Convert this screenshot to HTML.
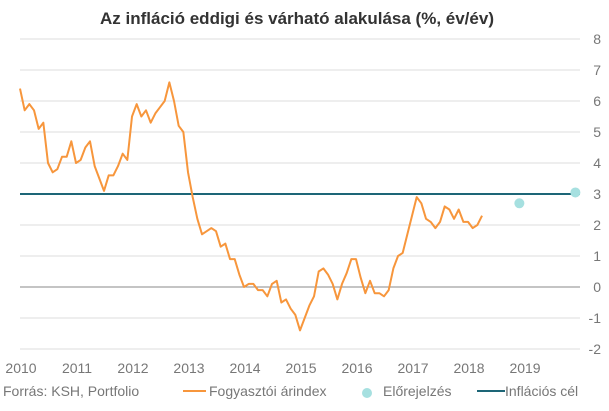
<!DOCTYPE html>
<html><head><meta charset="utf-8"><style>
body{margin:0;background:#fff;width:609px;height:406px;overflow:hidden;font-family:"Liberation Sans",sans-serif}
</style></head><body>
<svg width="609" height="406" font-family="Liberation Sans, sans-serif">
<text x="297" y="24" text-anchor="middle" font-size="17" font-weight="bold" fill="#333">Az infláció eddigi és várható alakulása (%, év/év)</text>
<g id="grid"></g><g id="series"></g>
<g font-size="14" fill="#777">
<text x="3" y="396">Forrás: KSH, Portfolio</text>
<line x1="183" y1="391" x2="206" y2="391" stroke="#f7963c" stroke-width="2"/>
<text x="209" y="396">Fogyasztói árindex</text>
<circle cx="367" cy="393" r="5" fill="#a6e0e0"/>
<text x="383" y="396">Előrejelzés</text>
<line x1="477" y1="391" x2="505" y2="391" stroke="#1d6677" stroke-width="2"/>
<text x="505" y="396">Inflációs cél</text>
</g>
</svg>
<script>
const yTicks=[-2,-1,0,1,2,3,4,5,6,7,8];
const xYears=[2010,2011,2012,2013,2014,2015,2016,2017,2018,2019];
const cpi=[6.4,5.7,5.9,5.7,5.1,5.3,4.0,3.7,3.8,4.2,4.2,4.7,
4.0,4.1,4.5,4.7,3.9,3.5,3.1,3.6,3.6,3.9,4.3,4.1,
5.5,5.9,5.5,5.7,5.3,5.6,5.8,6.0,6.6,6.0,5.2,5.0,
3.7,2.9,2.2,1.7,1.8,1.9,1.8,1.3,1.4,0.9,0.9,0.4,
0.0,0.1,0.1,-0.1,-0.1,-0.3,0.1,0.2,-0.5,-0.4,-0.7,-0.9,
-1.4,-1.0,-0.6,-0.3,0.5,0.6,0.4,0.1,-0.4,0.1,0.45,0.9,
0.9,0.3,-0.2,0.2,-0.2,-0.2,-0.3,-0.1,0.6,1.0,1.1,1.7,
2.3,2.9,2.7,2.2,2.1,1.9,2.1,2.6,2.5,2.2,2.5,2.1,
2.1,1.9,2.0,2.3];
const forecastMonths=[107,119];
const forecastValues=[2.7,3.05];
const target=3;
const NS="http://www.w3.org/2000/svg";
const X=m=>20+m*4.667;
const Y=v=>287-31*v;
function mk(t,a,p){const e=document.createElementNS(NS,t);for(const k in a)e.setAttribute(k,a[k]);p.appendChild(e);return e;}
const g=document.getElementById('grid'),s=document.getElementById('series');
yTicks.forEach(v=>{
 const l=mk('line',{x1:20,x2:580,y1:Y(v),y2:Y(v),stroke:v===0?'#888':'#ddd','stroke-width':1},g);
 
 
 const t=mk('text',{x:601,y:Y(v)+5,'text-anchor':'end','font-size':14,fill:'#777'},g);
 t.textContent=v;
 
 
});
xYears.forEach((yr,i)=>{
 const t=mk('text',{x:X(i*12)+1,y:373,'text-anchor':'middle','font-size':14,fill:'#777'},g);
 t.textContent=yr;
 
 
});
const tl=mk('line',{x1:20,x2:580,y1:Y(target),y2:Y(target),stroke:'#1d6677','stroke-width':2},s);


const p=mk('polyline',{points:cpi.map((v,i)=>X(i)+','+Y(v)).join(' '),fill:'none',stroke:'#f7963c','stroke-width':2,'stroke-linejoin':'round'},s);


forecastMonths.forEach((m,i)=>{
 const c=mk('circle',{cx:X(m),cy:Y(forecastValues[i]),r:5,fill:'#a6e0e0'},s);
 
 
});
</script>
</body></html>
